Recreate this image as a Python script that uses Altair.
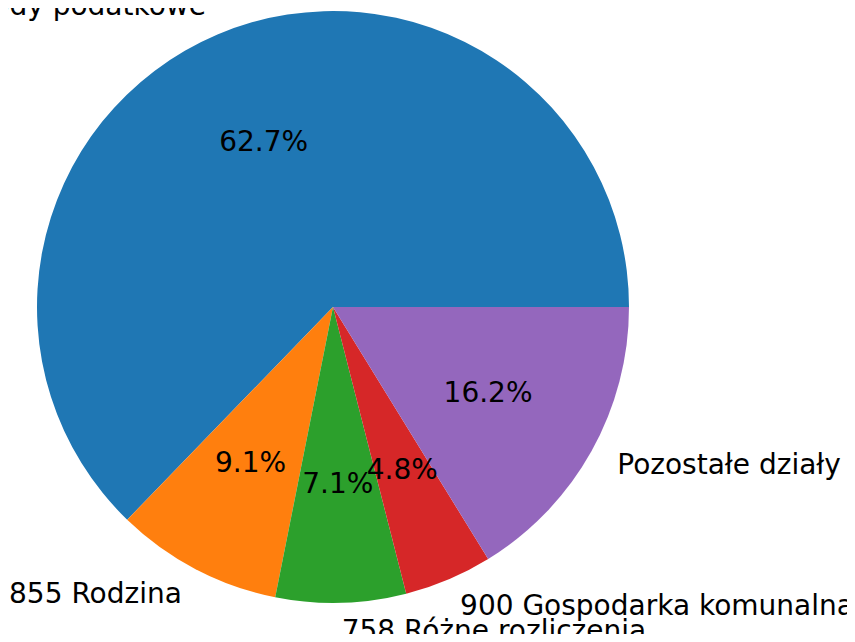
import math
import altair as alt
import pandas as pd

labels = ["756 Dochody podatkowe", "855 Rodzina", "758 Różne rozliczenia",
          "900 Gospodarka komunalna", "Pozostałe działy"]
shares = [62.7, 9.1, 7.1, 4.8, 16.2]
colors = ["#1f77b4", "#ff7f0e", "#2ca02c", "#d62728", "#9467bd"]

total = sum(shares)
df = pd.DataFrame({"label": labels, "share": shares})
# matplotlib draws counter-clockwise from 3 o'clock; Vega draws clockwise,
# so the drawing order is reversed
df["rank"] = list(range(len(labels)))[::-1]

R = 296
FONT = "DejaVu Sans"
FS = 28

base = (
    alt.Chart(df)
    .transform_window(cum="sum(share)", sort=[alt.SortField("rank")], frame=[None, 0])
    .transform_calculate(
        mid="datum.cum - datum.share / 2",
        pct="format(datum.share, '.1f') + '%'",
    )
    .transform_calculate(
        ang=f"PI / 2 + 2 * PI * datum.mid / {total}",
    )
    .transform_calculate(side="sin(datum.ang) < 0 ? 'left' : 'right'")
)

theta_scale = alt.Scale(domain=[0, total], range=[math.pi / 2, math.pi / 2 + 2 * math.pi])

arcs = base.mark_arc(outerRadius=R).encode(
    theta=alt.Theta("share:Q", stack=True, scale=theta_scale),
    order=alt.Order("rank:Q"),
    color=alt.Color("label:N", scale=alt.Scale(domain=labels, range=colors), legend=None),
)

mid_theta = alt.Theta("mid:Q", stack=False, scale=theta_scale)

pct_text = base.mark_text(
    radius=0.6 * R, font=FONT, fontSize=FS, color="black", align="center", baseline="middle"
).encode(theta=mid_theta, text="pct:N")

lab_left = base.transform_filter("datum.side == 'left'").mark_text(
    radius=1.1 * R, font=FONT, fontSize=FS, color="black", align="right", baseline="middle"
).encode(theta=mid_theta, text="label:N")

lab_right = base.transform_filter("datum.side == 'right'").mark_text(
    radius=1.1 * R, font=FONT, fontSize=FS, color="black", align="left", baseline="middle"
).encode(theta=mid_theta, text="label:N")

chart = (
    alt.layer(arcs, pct_text, lab_left, lab_right)
    .properties(
        width=650,
        height=598,
        autosize=alt.AutoSizeParams(type="none"),
        padding={"left": 0, "top": 0, "right": 189, "bottom": 28},
    )
    .configure_view(stroke=None)
)

chart.save("out.html", embed_options={"renderer": "svg", "actions": False})
